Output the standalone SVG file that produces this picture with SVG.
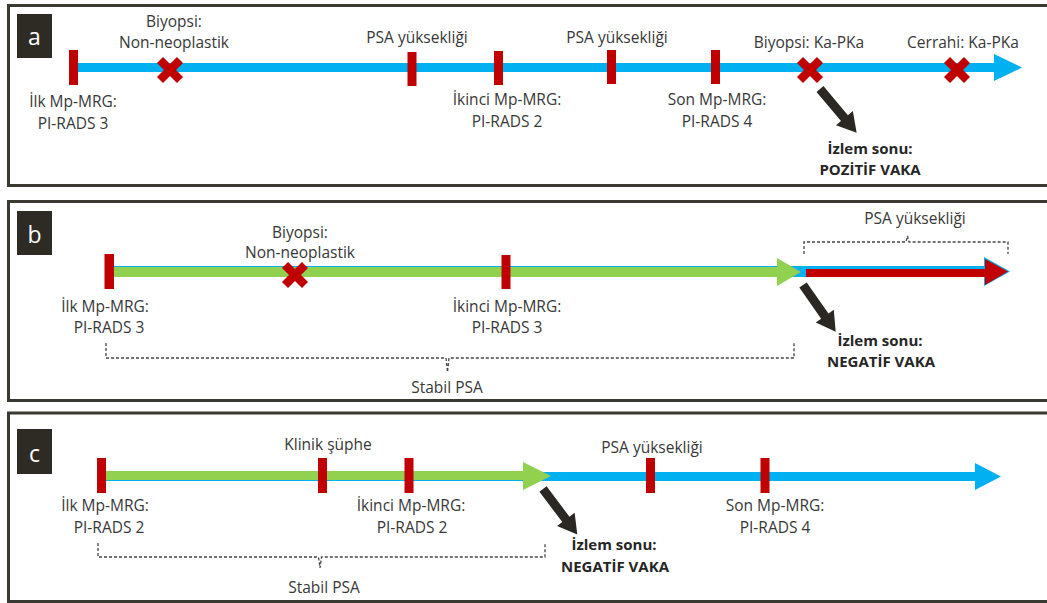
<svg xmlns="http://www.w3.org/2000/svg" xmlns:xlink="http://www.w3.org/1999/xlink" width="1047" height="603" viewBox="0 0 1047 603">
  <defs>
    <style>
      .panel { fill: #ffffff; stroke: #3a3932; stroke-width: 3; }
      .tag { fill: #2e2b25; }
      .tagtxt { fill: #ffffff; font-family: "Open Sans", "DejaVu Sans", sans-serif; font-size: 23px; text-anchor: middle; }
      .t { fill: #383838; font-family: "Open Sans", "DejaVu Sans", sans-serif; font-size: 15.5px; text-anchor: middle; }
      .b { fill: #262626; font-family: "Open Sans", "DejaVu Sans", sans-serif; font-size: 15px; font-weight: bold; text-anchor: middle; }
      .blue { fill: #00b0f0; }
      .green { fill: #92d050; }
      .red { fill: #c00000; }
      .tick { fill: #c00000; }
      .brace { fill: none; stroke: #444444; stroke-width: 1.3; stroke-dasharray: 3 2; }
    </style>
    <!-- red cross used for biopsy / surgery events -->
    <g id="cross">
      <path d="M-10,-10 L10,10 M10,-10 L-10,10" stroke="#c00000" stroke-width="8.5" fill="none"/>
    </g>
    <!-- dark block arrow pointing along +x -->
    <polygon id="blk" points="0,-4.5 38,-4.5 38,-11 57,0 38,11 38,4.5 0,4.5" fill="#2b2823"/>
  </defs>

  <!-- panel a -->
  <g id="panel-a">
    <rect class="panel" x="8.5" y="5.5" width="1045" height="180"/>
    <rect class="tag" x="17" y="14" width="35" height="44"/>
    <text class="tagtxt" x="34.5" y="45">a</text>
  </g>
  <!-- panel b -->
  <g id="panel-b">
    <rect class="panel" x="8.5" y="201.5" width="1045" height="199"/>
    <rect class="tag" x="17" y="211" width="35" height="44"/>
    <text class="tagtxt" x="34.5" y="243">b</text>
  </g>
  <!-- panel c -->
  <g id="panel-c">
    <rect class="panel" x="8.5" y="413" width="1045" height="188.5"/>
    <rect class="tag" x="17" y="429" width="35" height="45"/>
    <text class="tagtxt" x="34.5" y="462">c</text>
  </g>

  <!-- timelines and pointers -->
  <g id="connectors">
    <!-- a -->
    <polygon class="blue" points="77,63 994,63 994,54 1022,67.5 994,81 994,72 77,72"/>
    <use xlink:href="#blk" href="#blk" transform="translate(820,89) rotate(50)"/>
    <!-- b -->
    <polygon class="blue" points="114,266 984,266 984,257 1010,271.5 984,286 984,277 114,277"/>
    <polygon class="green" points="114,267 777,267 777,258 801,272 777,286 777,277 114,277"/>
    <polygon class="red" points="806,269 985,269 985,259 1008,271.5 985,285 985,277 806,277"/>
    <use xlink:href="#blk" href="#blk" transform="translate(803,285) rotate(55)"/>
    <path class="brace" d="M804,254 V242 H906 L907.5,236 L909,242 H1008 V254"/>
    <path class="brace" d="M106,343 V358 H446 L447.5,372 L449,358 H794 V343"/>
    <!-- c -->
    <polygon class="blue" points="106,472 975,472 975,463 1001,476.5 975,490 975,481 106,481"/>
    <polygon class="green" points="106,471 523,471 523,462 551,476 523,490 523,480 106,480"/>
    <use xlink:href="#blk" href="#blk" transform="translate(543,489) rotate(53)"/>
    <path class="brace" d="M98,543 V557 H318.5 L320,568 L321.5,557 H545 V543"/>
  </g>

  <!-- events on timeline a -->
  <g id="events-a">
    <rect class="tick" x="69" y="50" width="9" height="35"/>
    <use xlink:href="#cross" href="#cross" transform="translate(170,70)"/>
    <rect class="tick" x="407.5" y="52" width="9" height="34"/>
    <rect class="tick" x="494" y="51" width="9" height="34"/>
    <rect class="tick" x="607" y="50" width="9" height="34"/>
    <rect class="tick" x="711" y="50" width="9" height="34"/>
    <use xlink:href="#cross" href="#cross" transform="translate(810,70)"/>
    <use xlink:href="#cross" href="#cross" transform="translate(957,70)"/>
  </g>
  <g id="labels-a">
    <text class="t" x="174" y="27">Biyopsi:</text>
    <text class="t" x="174" y="48">Non-neoplastik</text>
    <text class="t" x="73" y="107">İlk Mp-MRG:</text>
    <text class="t" x="73" y="129">PI-RADS 3</text>
    <text class="t" x="417" y="43">PSA yüksekliği</text>
    <text class="t" x="617" y="43">PSA yüksekliği</text>
    <text class="t" x="507" y="105">İkinci Mp-MRG:</text>
    <text class="t" x="507" y="127">PI-RADS 2</text>
    <text class="t" x="717" y="105">Son Mp-MRG:</text>
    <text class="t" x="717" y="127">PI-RADS 4</text>
    <text class="t" x="809" y="48">Biyopsi: Ka-PKa</text>
    <text class="t" x="963" y="48">Cerrahi: Ka-PKa</text>
    <text class="b" x="870" y="154">İzlem sonu:</text>
    <text class="b" x="870" y="175">POZİTİF VAKA</text>
  </g>

  <!-- events on timeline b -->
  <g id="events-b">
    <rect class="tick" x="104.5" y="254" width="9.5" height="35"/>
    <use xlink:href="#cross" href="#cross" transform="translate(295,275)"/>
    <rect class="tick" x="501.5" y="255" width="9" height="34"/>
  </g>
  <g id="labels-b">
    <text class="t" x="300" y="238">Biyopsi:</text>
    <text class="t" x="300" y="258">Non-neoplastik</text>
    <text class="t" x="105" y="312">İlk Mp-MRG:</text>
    <text class="t" x="109" y="333">PI-RADS 3</text>
    <text class="t" x="507" y="312">İkinci Mp-MRG:</text>
    <text class="t" x="507" y="333">PI-RADS 3</text>
    <text class="t" x="915" y="224">PSA yüksekliği</text>
    <text class="t" x="447" y="393">Stabil PSA</text>
    <text class="b" x="880" y="346">İzlem sonu:</text>
    <text class="b" x="881" y="367">NEGATİF VAKA</text>
  </g>

  <!-- events on timeline c -->
  <g id="events-c">
    <rect class="tick" x="97" y="458" width="9" height="35"/>
    <rect class="tick" x="318" y="458" width="9" height="35"/>
    <rect class="tick" x="404.5" y="458" width="9" height="35"/>
    <rect class="tick" x="646" y="458" width="9" height="35"/>
    <rect class="tick" x="760.5" y="458" width="9" height="35"/>
  </g>
  <g id="labels-c">
    <text class="t" x="328" y="450">Klinik şüphe</text>
    <text class="t" x="105" y="511">İlk Mp-MRG:</text>
    <text class="t" x="109" y="533">PI-RADS 2</text>
    <text class="t" x="411" y="511">İkinci Mp-MRG:</text>
    <text class="t" x="412" y="533">PI-RADS 2</text>
    <text class="t" x="652" y="453">PSA yüksekliği</text>
    <text class="t" x="775" y="511">Son Mp-MRG:</text>
    <text class="t" x="775" y="533">PI-RADS 4</text>
    <text class="t" x="324" y="593">Stabil PSA</text>
    <text class="b" x="614" y="550">İzlem sonu:</text>
    <text class="b" x="615" y="572">NEGATİF VAKA</text>
  </g>
</svg>
